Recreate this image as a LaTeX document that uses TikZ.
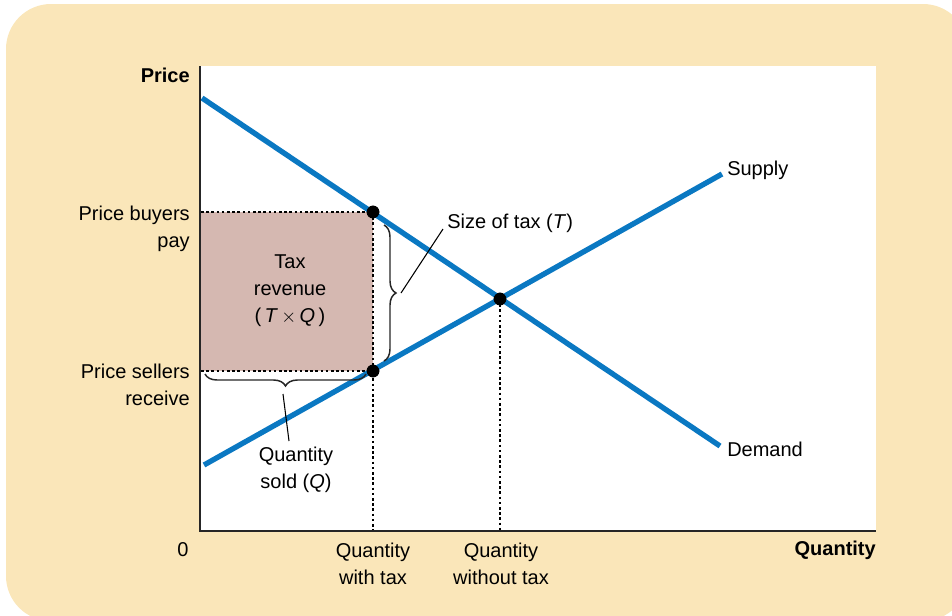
\documentclass[tikz,border=0pt]{standalone}
\usepackage{fontspec}
\setmainfont{Liberation Sans}
\usetikzlibrary{decorations.pathreplacing}
\definecolor{bgcol}{HTML}{FAE6B9}
\definecolor{taxcol}{HTML}{D5B8B1}
\definecolor{curvecol}{HTML}{0A78C2}
\tikzset{
  lbl/.style={font=\fontsize{15}{20.25}\selectfont, inner sep=0pt},
  boldlbl/.style={font=\fontsize{15}{20.25}\selectfont\bfseries, inner sep=0pt},
  curve/.style={draw=curvecol, line width=4pt},
  guide/.style={draw=black, line width=1.9pt, dash pattern=on 1.9pt off 2pt},
  axis/.style={draw=black!85, line width=1.3pt},
  dotpt/.style={circle, fill=black, inner sep=0pt, minimum size=9.5pt},
  bracestyle/.style={draw=black!85, line width=1.1pt, decorate, decoration={brace, amplitude=9pt}},
  leader/.style={draw=black, line width=0.8pt}
}
\begin{document}
\begin{tikzpicture}[x=0.75pt, y=-0.75pt]
\useasboundingbox (0,0) rectangle (952,615);
\begin{scope}
\clip (0,0) rectangle (952,615);
\fill[bgcol, rounded corners=33.75pt] (6,4) rectangle (968,621);
\end{scope}
% plot area
\fill[white] (200,66) rectangle (876,531);
\fill[taxcol] (200,212) rectangle (373,371);
% points
\coordinate (O) at (200,531);
\coordinate (Top) at (200,66);
\coordinate (Right) at (876,531);
\coordinate (Dstart) at (202,98);
\coordinate (Dend) at (720,446);
\coordinate (Sstart) at (204,465);
\coordinate (Send) at (722,174);
\coordinate (Pb) at (201,212);
\coordinate (Ps) at (201,371);
\coordinate (Qt) at (373,531);
\coordinate (Qn) at (500,531);
% guides
\node[dotpt] (A) at (373,212) {};
\node[dotpt] (B) at (373,371) {};
\node[dotpt] (E) at (500,299) {};
\draw[guide] (Pb) -- (A.center);
\draw[guide] (Ps) -- (B.center);
\draw[guide] (A.center) -- (Qt);
\draw[guide] (E.center) -- (Qn);
% curves
\draw[curve] (Dstart) -- (Dend);
\draw[curve] (Sstart) -- (Send);
\node[dotpt] at (373,212) {};
\node[dotpt] at (373,371) {};
\node[dotpt] at (500,299) {};
% axes
\draw[axis] (Top) -- (O) -- (Right);
% braces
\coordinate (BrT) at (384,225);
\coordinate (BrB) at (384,361);
\draw[bracestyle] (BrT) -- (BrB);
\coordinate (BrTip) at (401,293);
\coordinate (BtR) at (366,374);
\coordinate (BtL) at (205,374);
\draw[bracestyle] (BtR) -- (BtL);
\coordinate (BtTip) at (283,394);
% labels
\node[boldlbl, anchor=east] (price) at (190,75) {Price};
\node[lbl, anchor=east, align=right] (pbuy) at (190,228.5) {Price buyers\\pay};
\node[lbl, anchor=east, align=right] (psell) at (190,384.5) {Price sellers\\receive};
\node[lbl] (zero) at (183,550) {0};
\node[lbl, align=center] (qwt) at (373,563.5) {Quantity\\with tax};
\node[lbl, align=center] (qwo) at (501,563.5) {Quantity\\without tax};
\node[boldlbl, anchor=east] (qty) at (876,550) {Quantity};
\node[lbl, anchor=west] (supply) at (727,170) {Supply};
\node[lbl, anchor=west] (demand) at (727,449) {Demand};
\node[lbl, align=center] (rev) at (290,291) {Tax\\revenue\\(\,\textit{T}\,$\times$\,\textit{Q}\,)};
\node[lbl, anchor=west] (size) at (447,223) {Size of tax (\textit{T})};
\node[lbl, align=center] (qsold) at (296,469.5) {Quantity\\sold (\textit{Q})};
% leaders
\coordinate (sizeL) at (443,229);
\coordinate (qsoldL) at (289,441);
\draw[leader] (BrTip) -- (sizeL);
\draw[leader] (BtTip) -- (qsoldL);
\end{tikzpicture}
\end{document}
